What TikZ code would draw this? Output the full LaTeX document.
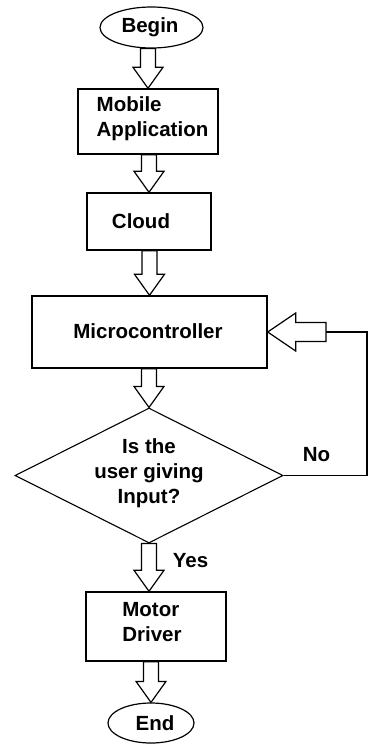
\documentclass[tikz,border=0pt]{standalone}
\usepackage{fontspec}
\setmainfont{Liberation Sans}
\usetikzlibrary{shapes.geometric,calc}

\tikzset{
  lbl/.style={font=\bfseries\fontsize{20.5}{25}\selectfont, align=left, inner sep=0pt},
  box/.style={draw, line width=1.4pt, rectangle, inner sep=0pt},
  oval/.style={draw, line width=1.2pt, ellipse, inner sep=0pt},
  choice/.style={draw, line width=1.1pt, diamond, inner sep=0pt},
  blk/.style={draw, line width=1.2pt, fill=white, line join=miter},
  wire/.style={draw, line width=1.2pt},
}

% hollow block arrow pointing down from #1 to #2 (x taken from #2)
\newcommand\vblock[2]{%
  \path[blk] let \p1=(#1), \p2=(#2) in
    (\x2-7.5pt,\y1) -- (\x2-7.5pt,\y2+21pt) -- (\x2-15pt,\y2+21pt) -- (\x2,\y2)
    -- (\x2+15pt,\y2+21pt) -- (\x2+7.5pt,\y2+21pt) -- (\x2+7.5pt,\y1) -- cycle;}

\begin{document}
\begin{tikzpicture}[x=1pt,y=-1pt]
  \fill[white] (0,0) rectangle (369,745);
  \useasboundingbox (0,0) rectangle (369,745);

  \node[oval, minimum width=103pt, minimum height=41pt,
        label={[lbl, xshift=-1.5pt]center:Begin}] (begin) at (151.5,27.5) {};
  \node[box, minimum width=140pt, minimum height=65pt,
        label={[lbl, xshift=4.5pt, yshift=3pt]center:Mobile\\Application}] (mobile) at (148,121.5) {};
  \node[box, minimum width=124pt, minimum height=57pt,
        label={[lbl, xshift=-8pt]center:Cloud}] (cloud) at (149,221.5) {};
  \node[box, minimum width=235pt, minimum height=72pt,
        label={[lbl, xshift=-1.5pt, yshift=1pt]center:Microcontroller}] (micro) at (149.5,332) {};
  \node[choice, minimum width=268pt, minimum height=135pt,
        label={[lbl, align=center, yshift=2.5pt]center:Is the\\user giving\\Input?}] (dec) at (149,475.5) {};
  \node[box, minimum width=140pt, minimum height=69pt,
        label={[lbl, xshift=-4pt, yshift=4pt]center:Motor\\Driver}] (motor) at (156,626.5) {};
  \node[oval, minimum width=86pt, minimum height=40pt,
        label={[lbl, xshift=4pt]center:End}] (end) at (151,723) {};

  \node[lbl] (no) at (316.5,455) {No};
  \node[lbl] (yes) at (190.5,561) {Yes};

  \vblock{begin.south}{mobile.north}
  \vblock{mobile.south}{cloud.north}
  \vblock{cloud.south}{micro.north}
  \vblock{micro.south}{dec.north}
  \vblock{dec.south}{motor.north -| dec.north}
  \vblock{motor.south}{end.north}

  % "No" branch loops back into the microcontroller
  \coordinate (fb) at (326,332);
  \coordinate (corner) at (367,332);
  \draw[wire] (dec.east) -- (corner |- dec.east) -- (corner) -- (fb);
  \path[blk] let \p1=(fb), \p2=(micro.east) in
    (\x1,\y2+9.5pt) -- (\x2+28pt,\y2+9.5pt) -- (\x2+28pt,\y2+19pt) -- (\x2,\y2)
    -- (\x2+28pt,\y2-19pt) -- (\x2+28pt,\y2-9.5pt) -- (\x1,\y2-9.5pt) -- cycle;
\end{tikzpicture}
\end{document}
